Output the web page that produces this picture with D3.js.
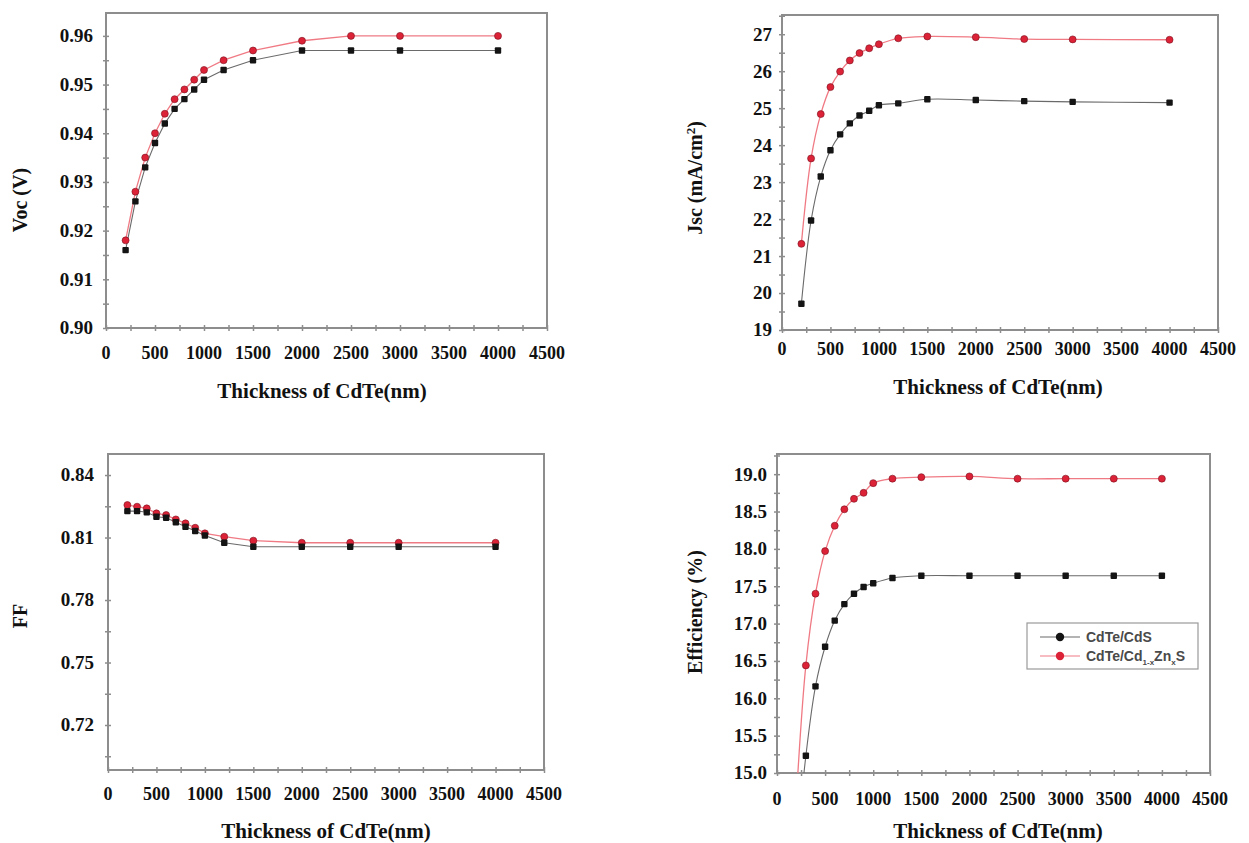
<!DOCTYPE html>
<html>
<head>
<meta charset="utf-8">
<script src="https://cdn.jsdelivr.net/npm/d3@7"></script>
<style>
  html, body { margin: 0; padding: 0; background: #ffffff; }
  svg { display: block; }
</style>
</head>
<body>
<svg id="chart" width="1249" height="843"></svg>
<script>
// ---------------- DATA ----------------
const thickness = [200, 300, 400, 500, 600, 700, 800, 900, 1000, 1200, 1500, 2000, 2500, 3000, 4000];
const vocCdS    = [0.916, 0.926, 0.933, 0.938, 0.942, 0.945, 0.947, 0.949, 0.951, 0.953, 0.955, 0.957, 0.957, 0.957, 0.957];
const vocCdZnS  = [0.918, 0.928, 0.935, 0.940, 0.944, 0.947, 0.949, 0.951, 0.953, 0.955, 0.957, 0.959, 0.960, 0.960, 0.960];
const jscCdS    = [19.71, 21.96, 23.15, 23.86, 24.29, 24.59, 24.80, 24.93, 25.08, 25.13, 25.24, 25.22, 25.19, 25.17, 25.15];
const jscCdZnS  = [21.33, 23.64, 24.84, 25.57, 25.99, 26.29, 26.49, 26.62, 26.73, 26.89, 26.94, 26.92, 26.87, 26.86, 26.85];
const ffCdS     = [0.8227, 0.8227, 0.8221, 0.8200, 0.8195, 0.8173, 0.8152, 0.8131, 0.8110, 0.8075, 0.8056, 0.8056, 0.8056, 0.8056, 0.8056];
const ffCdZnS   = [0.8256, 0.8248, 0.8240, 0.8216, 0.8208, 0.8187, 0.8168, 0.8147, 0.8120, 0.8104, 0.8085, 0.8075, 0.8075, 0.8075, 0.8075];
const effThickness = [200, 300, 400, 500, 600, 700, 800, 900, 1000, 1200, 1500, 2000, 2500, 3000, 3500, 4000];
const effCdS    = [13.90, 15.23, 16.16, 16.69, 17.04, 17.26, 17.40, 17.49, 17.54, 17.61, 17.64, 17.64, 17.64, 17.64, 17.64, 17.64];
const effCdZnS  = [14.64, 16.44, 17.40, 17.97, 18.31, 18.53, 18.67, 18.75, 18.88, 18.94, 18.96, 18.97, 18.94, 18.94, 18.94, 18.94];

const xTicks   = [0, 500, 1000, 1500, 2000, 2500, 3000, 3500, 4000, 4500];
const vocTicks = [0.90, 0.91, 0.92, 0.93, 0.94, 0.95, 0.96];
const jscTicks = [19, 20, 21, 22, 23, 24, 25, 26, 27];
const ffTicks  = [0.72, 0.75, 0.78, 0.81, 0.84];
const effTicks = [15.0, 15.5, 16.0, 16.5, 17.0, 17.5, 18.0, 18.5, 19.0];

const seriesNames = ["CdTe/CdS", "CdTe/Cd1-xZnxS"];
const xTitle = "Thickness of CdTe(nm)";

// ---------------- LAYOUT ----------------
const panels = [
  { id: "voc", x: thickness, s1: vocCdS, s2: vocCdZnS, yDomain: [0.90, 0.9647], yTicks: vocTicks, yMinorStep: 0.005, fmt: d3.format(".2f"),
    left: 106, right: 547, top: 13, bottom: 328, labelGap: 13, yTitle: "Voc (V)", yTitleX: 20, yTitleY: 200, xLabelY: 359, xTitleX: 322, xTitleY: 398, smooth: false },
  { id: "jsc", x: thickness, s1: jscCdS, s2: jscCdZnS, yDomain: [19, 27.52], yTicks: jscTicks, yMinorStep: 0.5, fmt: d3.format("d"),
    left: 782, right: 1218, top: 15, bottom: 330, labelGap: 10, yTitle: "jsc", yTitleX: 695, yTitleY: 178, xLabelY: 355, xTitleX: 998, xTitleY: 394, smooth: true },
  { id: "ff", x: thickness, s1: ffCdS, s2: ffCdZnS, yDomain: [0.6984, 0.8501], yTicks: ffTicks, yMinorStep: 0.015, fmt: d3.format(".2f"),
    left: 108, right: 544, top: 454, bottom: 770, labelGap: 14, yTitle: "FF", yTitleX: 20, yTitleY: 616, xLabelY: 800, xTitleX: 326, xTitleY: 838, smooth: false },
  { id: "eff", x: effThickness, s1: effCdS, s2: effCdZnS, yDomain: [15, 19.27], yTicks: effTicks, yMinorStep: 0.25, fmt: d3.format(".1f"),
    left: 777, right: 1210, top: 454, bottom: 773, labelGap: 10, yTitle: "Efficiency (%)", yTitleX: 695, yTitleY: 612, xLabelY: 805, xTitleX: 998, xTitleY: 838, smooth: true, legend: true }
];

const svg = d3.select("#chart");
const serif = "'Liberation Serif', 'Times New Roman', serif";
const sans = "'Liberation Sans', Arial, sans-serif";
const frameColor = "#8d8d8d";
const blackLine = "#6a6a6a", redLine = "#f07a84";
const blackMark = "#141414", redMark = "#dc2236";

const defs = svg.append("defs");

panels.forEach(p => {
  const g = svg.append("g").attr("class", "panel-" + p.id);
  const x = d3.scaleLinear().domain([0, 4500]).range([p.left, p.right]);
  const y = d3.scaleLinear().domain(p.yDomain).range([p.bottom, p.top]);

  defs.append("clipPath").attr("id", "clip-" + p.id)
    .append("rect").attr("x", p.left).attr("y", p.top)
    .attr("width", p.right - p.left).attr("height", p.bottom - p.top);

  // minor tick values
  const xMinor = d3.range(0, 4500 + 1, 250);
  const base = p.yTicks[0];
  const yMinor = [];
  for (let v = base; v <= p.yDomain[1] + 1e-9; v += p.yMinorStep) yMinor.push(+v.toFixed(4));
  for (let v = base - p.yMinorStep; v >= p.yDomain[0] - 1e-9; v -= p.yMinorStep) yMinor.push(+v.toFixed(4));

  const xAxis = d3.axisBottom(x).tickValues(xMinor).tickSize(3).tickFormat("");
  g.append("g").attr("transform", `translate(0,${p.bottom})`).call(xAxis)
    .call(s => s.select(".domain").remove())
    .call(s => s.selectAll(".tick line").attr("stroke", frameColor).attr("stroke-width", 1.5).attr("y1", -3).attr("y2", 3));

  const yAxis = d3.axisLeft(y).tickValues(yMinor).tickSize(3).tickFormat("");
  g.append("g").attr("transform", `translate(${p.left},0)`).call(yAxis)
    .call(s => s.select(".domain").remove())
    .call(s => s.selectAll(".tick line").attr("stroke", frameColor).attr("stroke-width", 1.5).attr("x1", 3).attr("x2", -3));

  // tick labels
  g.append("g").selectAll("text").data(xTicks).join("text")
    .attr("x", d => x(d)).attr("y", p.xLabelY)
    .attr("text-anchor", "middle")
    .attr("font-family", serif).attr("font-weight", "bold").attr("font-size", 18)
    .attr("fill", "#111")
    .text(d => d);

  g.append("g").selectAll("text").data(p.yTicks).join("text")
    .attr("x", p.left - p.labelGap).attr("y", d => y(d)).attr("dy", "0.34em")
    .attr("text-anchor", "end")
    .attr("font-family", serif).attr("font-weight", "bold").attr("font-size", 19)
    .attr("fill", "#111")
    .text(d => p.fmt(d));

  // frame
  g.append("rect").attr("x", p.left).attr("y", p.top)
    .attr("width", p.right - p.left).attr("height", p.bottom - p.top)
    .attr("fill", "none").attr("stroke", frameColor).attr("stroke-width", 2);

  // series
  const plot = g.append("g").attr("clip-path", `url(#clip-${p.id})`);
  const line = d3.line().x(d => x(d[0])).y(d => y(d[1]))
    .curve(p.smooth ? d3.curveCatmullRom.alpha(0.5) : d3.curveLinear);
  const d1 = p.x.map((t, i) => [t, p.s1[i]]);
  const d2 = p.x.map((t, i) => [t, p.s2[i]]);

  plot.append("path").datum(d2).attr("d", line).attr("fill", "none")
    .attr("stroke", redLine).attr("stroke-width", 1.3);
  plot.append("path").datum(d1).attr("d", line).attr("fill", "none")
    .attr("stroke", blackLine).attr("stroke-width", 1.1);

  plot.append("g").selectAll("circle").data(d2).join("circle")
    .attr("cx", d => x(d[0])).attr("cy", d => y(d[1])).attr("r", 3.5)
    .attr("fill", redMark).attr("stroke", "#7a1020").attr("stroke-width", 0.6);
  plot.append("g").selectAll("rect").data(d1).join("rect")
    .attr("x", d => x(d[0]) - 3.2).attr("y", d => y(d[1]) - 3.2)
    .attr("width", 6.4).attr("height", 6.4).attr("rx", 1)
    .attr("fill", blackMark);

  // axis titles
  g.append("text").attr("x", p.xTitleX).attr("y", p.xTitleY)
    .attr("text-anchor", "middle")
    .attr("font-family", serif).attr("font-weight", "bold").attr("font-size", 21)
    .attr("fill", "#111").text(xTitle);

  const yt = g.append("text")
    .attr("transform", `translate(${p.yTitleX},${p.yTitleY}) rotate(-90)`)
    .attr("text-anchor", "middle").attr("dy", "0.35em")
    .attr("font-family", serif).attr("font-weight", "bold").attr("font-size", 20)
    .attr("fill", "#111");
  if (p.yTitle === "jsc") {
    yt.append("tspan").text("Jsc (mA/cm");
    yt.append("tspan").attr("font-size", 13).attr("dy", "-0.55em").text("2");
    yt.append("tspan").attr("dy", "0.35em").text(")");
  } else {
    yt.text(p.yTitle);
  }

  // legend
  if (p.legend) {
    const lg = g.append("g");
    lg.append("rect").attr("x", 1027).attr("y", 623).attr("width", 171).attr("height", 46)
      .attr("fill", "#fff").attr("stroke", "#9a9a9a").attr("stroke-width", 1.2);
    const rows = [
      { name: seriesNames[0], y: 637, line: blackLine, mark: blackMark },
      { name: seriesNames[1], y: 656, line: redLine, mark: redMark }
    ];
    rows.forEach(r => {
      lg.append("line").attr("x1", 1040).attr("x2", 1080).attr("y1", r.y).attr("y2", r.y)
        .attr("stroke", r.line).attr("stroke-width", 1.2);
      lg.append("circle").attr("cx", 1060).attr("cy", r.y).attr("r", 4.2).attr("fill", r.mark);
    });
    const tx = 1086;
    lg.append("text").attr("x", tx).attr("y", 642)
      .attr("font-family", sans).attr("font-weight", "bold").attr("font-size", 14).attr("fill", "#4a4a4a")
      .text(rows[0].name);
    // "CdTe/Cd1-xZnxS" with subscripts (absolute baselines)
    const base2 = 661, sub = 665;
    const t2 = lg.append("text").attr("x", tx).attr("y", base2)
      .attr("font-family", sans).attr("font-weight", "bold").attr("font-size", 14).attr("fill", "#4a4a4a");
    const nm = seriesNames[1]; // CdTe/Cd1-xZnxS
    t2.append("tspan").attr("y", base2).text(nm.slice(0, 7));
    t2.append("tspan").attr("y", sub).attr("font-size", 8).text(nm.slice(7, 10));
    t2.append("tspan").attr("y", base2).text(nm.slice(10, 12));
    t2.append("tspan").attr("y", sub).attr("font-size", 8).text(nm.slice(12, 13));
    t2.append("tspan").attr("y", base2).text(nm.slice(13));
  }
});
</script>
</body>
</html>
